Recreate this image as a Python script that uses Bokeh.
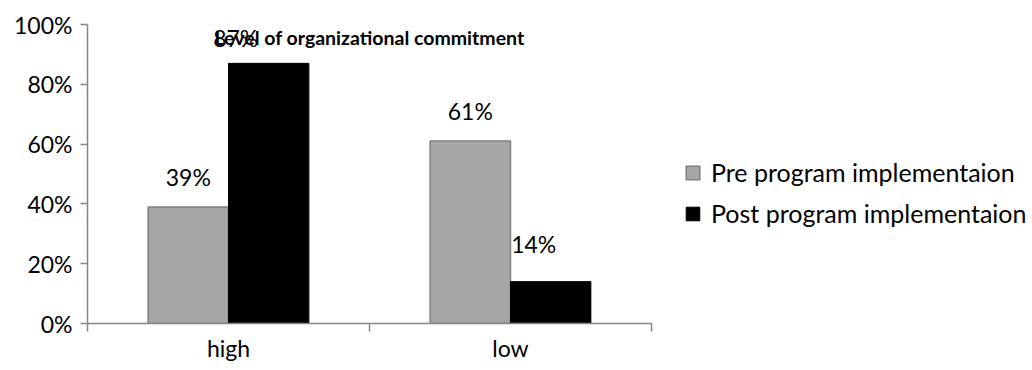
from bokeh.plotting import figure
from bokeh.models import ColumnDataSource, FixedTicker, Legend, LegendItem, LabelSet, Label
from bokeh.core.properties import value
from bokeh.embed import file_html
from bokeh.resources import INLINE

categories = ["high", "low"]
series_names = ["Pre program implementaion", "Post program implementaion"]
pre_values = [0.39, 0.61]
post_values = [0.87, 0.14]
y_ticks = [0, 0.2, 0.4, 0.6, 0.8, 1.0]
y_tick_labels = ["0%", "20%", "40%", "60%", "80%", "100%"]
title_text = "Level of organizational commitment"

FONT = "Lato"
FS = "23px"
GRAY = "#a6a6a6"
AXIS = "#868686"

bar_w = 0.285
centers = [i + 0.5 for i in range(len(categories))]

p = figure(frame_width=564, frame_height=299, output_backend="svg", toolbar_location=None,
           x_range=(0, len(categories)), y_range=(0, 1.0),
           min_border_left=87, min_border_top=24, min_border_bottom=47, min_border_right=381)
p.outline_line_color = None
p.xgrid.visible = False
p.ygrid.visible = False
p.background_fill_color = "white"
p.border_fill_color = "white"

pre_src = ColumnDataSource(dict(x=[c - bar_w / 2 for c in centers], top=pre_values,
                                lab=[f"{round(v*100)}%" for v in pre_values]))
post_src = ColumnDataSource(dict(x=[c + bar_w / 2 for c in centers], top=post_values,
                                 lab=[f"{round(v*100)}%" for v in post_values]))

r_pre = p.vbar(x="x", top="top", bottom=0, width=bar_w, source=pre_src,
               fill_color=GRAY, line_color="#7f7f7f", line_width=1.5)
r_post = p.vbar(x="x", top="top", bottom=0, width=bar_w, source=post_src,
                fill_color="black", line_color="black", line_width=1)

# value labels (Excel placed some slightly off-center)
pre_src.data["xo"] = [0, 0]
pre_src.data["yo"] = [30, 30]
post_src.data["xo"] = [-33, -17]
post_src.data["yo"] = [25, 38]
for src in (pre_src, post_src):
    ls = LabelSet(x="x", y="top", text="lab", source=src, x_offset="xo", y_offset="yo",
                  text_align="center", text_baseline="middle",
                  text_font=value(FONT), text_font_size=value(FS), text_color="black")
    p.add_layout(ls)

p.add_layout(Label(x=len(categories) / 2, y=0.957, text=title_text, text_align="center",
                   text_baseline="middle", text_font=FONT, text_font_size="19.5px",
                   text_font_style="bold", text_color="black"))

# axes
p.yaxis.ticker = FixedTicker(ticks=y_ticks)
p.yaxis.major_label_overrides = {t: l for t, l in zip(y_ticks, y_tick_labels)}
p.yaxis.major_label_text_font = FONT
p.yaxis.major_label_text_font_size = FS
p.yaxis.major_label_text_color = "black"
p.yaxis.axis_line_color = AXIS
p.yaxis.axis_line_width = 1.5
p.yaxis.major_tick_line_color = AXIS
p.yaxis.major_tick_line_width = 1.5
p.yaxis.major_tick_out = 7
p.yaxis.major_tick_in = 0
p.yaxis.minor_tick_line_color = None
p.yaxis.major_label_standoff = 8

p.xaxis.ticker = FixedTicker(ticks=centers, minor_ticks=list(range(len(categories) + 1)))
p.xaxis.major_label_overrides = {c: n for c, n in zip(centers, categories)}
p.xaxis.major_label_text_font = FONT
p.xaxis.major_label_text_font_size = FS
p.xaxis.major_label_text_color = "black"
p.xaxis.axis_line_color = AXIS
p.xaxis.axis_line_width = 1.5
p.xaxis.major_tick_line_color = None
p.xaxis.major_tick_out = 8
p.xaxis.minor_tick_line_color = AXIS
p.xaxis.minor_tick_line_width = 1.5
p.xaxis.minor_tick_out = 8
p.xaxis.minor_tick_in = 0
p.xaxis.major_label_standoff = 2

legend = Legend(items=[LegendItem(label=series_names[0], renderers=[r_pre]),
                       LegendItem(label=series_names[1], renderers=[r_post])],
                location=(33, 95), orientation="vertical",
                label_text_font=FONT, label_text_font_size="25px", label_text_color="black",
                glyph_width=17, glyph_height=17, spacing=11,
                border_line_color=None, background_fill_alpha=0,
                padding=0, margin=0, label_standoff=10)
p.add_layout(legend, "right")

open("out.html", "w").write(file_html(p, INLINE))
